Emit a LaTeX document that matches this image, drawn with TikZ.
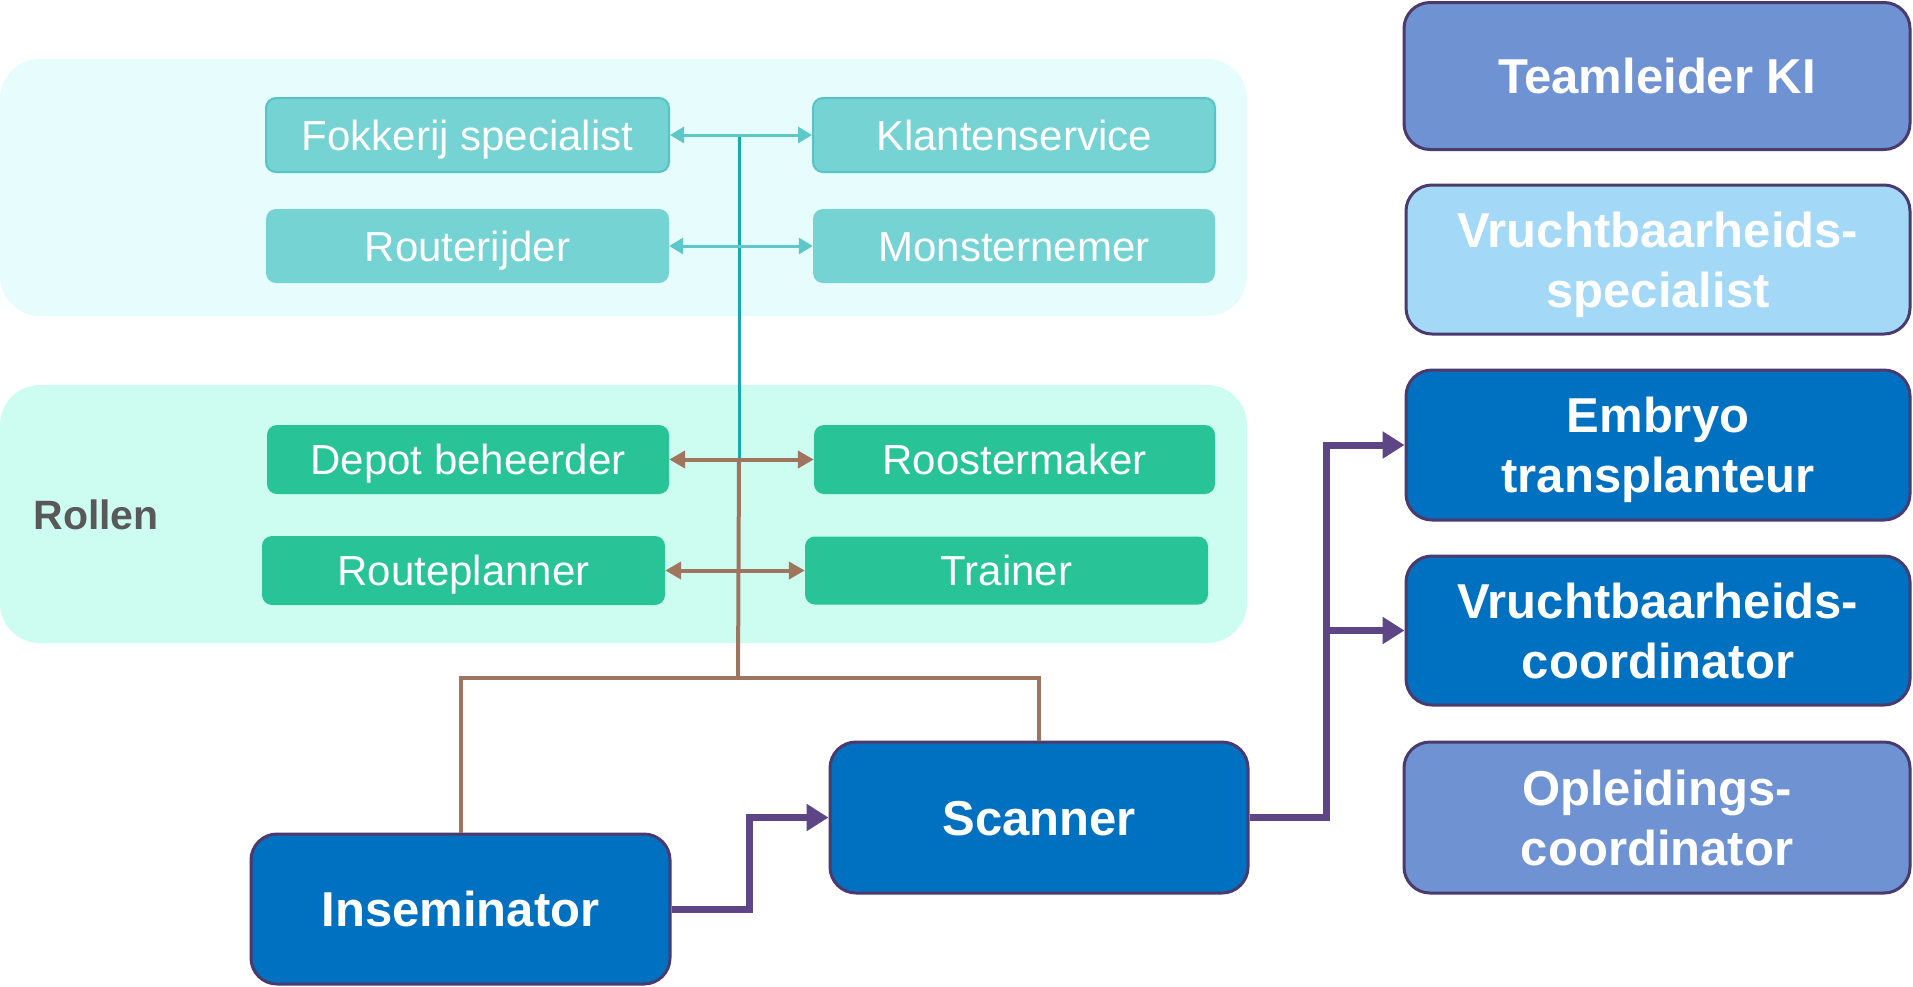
\documentclass[tikz,border=0pt]{standalone}
\usepackage{fontspec}
\setmainfont{Liberation Sans}
\usetikzlibrary{arrows.meta}
\newcommand{\nodesc}[1]{\raisebox{0pt}[\height][0pt]{#1}}
\definecolor{toppanel}{HTML}{E6FCFD}
\definecolor{botpanel}{HTML}{CCFDF0}
\definecolor{tealfill}{HTML}{76D3D4}
\definecolor{tealdraw}{HTML}{55C4C6}
\definecolor{tealline}{HTML}{5CC8CA}
\definecolor{tealdark}{HTML}{17AAAD}
\definecolor{greenfill}{HTML}{29C398}
\definecolor{bluefill}{HTML}{0070C0}
\definecolor{boxborder}{HTML}{4B3A6E}
\definecolor{lavender}{HTML}{6F92D2}
\definecolor{lightblue}{HTML}{A3D9F7}
\definecolor{purpleline}{HTML}{5E4585}
\definecolor{brownline}{HTML}{A07560}
\definecolor{labelgray}{HTML}{595959}
\tikzset{
  panel/.style={rounded corners=40pt, draw=none},
  smallbox/.style={rounded corners=10pt, inner sep=0pt, text=white,
    text height=30pt, text depth=0pt,
    font=\fontsize{42}{50}\selectfont},
  tealbox/.style={smallbox, fill=tealfill},
  tealbord/.style={tealbox, draw=tealdraw, line width=2pt},
  greenbox/.style={smallbox, fill=greenfill},
  bigbox/.style={rounded corners=26pt, inner sep=0pt, text=white, draw=boxborder,
    line width=3pt, align=center,
    font=\bfseries\fontsize{49}{60}\selectfont},
  oneline/.style={text height=35pt, text depth=0pt},
  bluebox/.style={bigbox, fill=bluefill},
  lavbox/.style={bigbox, fill=lavender},
  lbbox/.style={bigbox, fill=lightblue},
  tealarrow/.style={draw=tealline, line width=3pt, {Triangle[length=14pt,width=16pt]}-{Triangle[length=14pt,width=16pt]}},
  brownarrow/.style={draw=brownline, line width=4pt, {Triangle[length=16pt,width=17pt]}-{Triangle[length=16pt,width=17pt]}},
  brownlink/.style={draw=brownline, line width=4pt},
  purplelink/.style={draw=purpleline, line width=7pt, -{Triangle[length=22pt,width=26pt]}},
}
\begin{document}
\begin{tikzpicture}[x=1pt,y=-1pt]
\useasboundingbox (0,0) rectangle (1913,986);
% panels
\fill[panel, toppanel] (0,59) rectangle (1247,316);
\fill[panel, botpanel] (0,385) rectangle (1247,643);
\node[anchor=west, text=labelgray, font=\bfseries\fontsize{41}{49}\selectfont] (rollen) at (30,515) {Rollen};
% small boxes
\node[tealbord, minimum width=403pt, minimum height=74pt] (fok) at (467.5,135) {Fokkerij specialist};
\node[tealbord, minimum width=402pt, minimum height=74pt] (klant) at (1014,135) {Klantenservice};
\node[tealbox, minimum width=403pt, minimum height=74pt] (router) at (467.5,246) {Routerijder};
\node[tealbox, minimum width=402pt, minimum height=74pt] (monster) at (1014,246) {Monsternemer};
\node[greenbox, minimum width=402pt, minimum height=69pt] (depot) at (468,459.5) {Depot beheerder};
\node[greenbox, minimum width=401pt, minimum height=69pt] (rooster) at (1014.5,459.5) {Roostermaker};
\node[greenbox, minimum width=403pt, minimum height=69pt] (rplan) at (463.5,570.5) {Routeplanner};
\node[greenbox, minimum width=403pt, minimum height=68pt] (trainer) at (1006.5,570.5) {Trainer};
% big boxes
\node[bluebox, oneline, minimum width=419pt, minimum height=150pt] (insem) at (460.5,909) {Inseminator};
\node[bluebox, oneline, minimum width=418pt, minimum height=151pt] (scanner) at (1039,817.5) {Scanner};
\node[lavbox, oneline, minimum width=506pt, minimum height=147pt] (team) at (1657,76) {Teamleider KI};
\node[lbbox, minimum width=504pt, minimum height=149pt] (vspec) at (1658,259.5) {Vruchtbaarheids-\\\nodesc{specialist}};
\node[bluebox, minimum width=504pt, minimum height=150pt] (embryo) at (1658,445) {Embryo\\\nodesc{transplanteur}};
\node[bluebox, minimum width=504pt, minimum height=149pt] (vcoord) at (1658,630.5) {Vruchtbaarheids-\\coordinator};
\node[lavbox, minimum width=506pt, minimum height=151pt] (opl) at (1657,817.5) {Opleidings-\\coordinator};
% teal connectors
\coordinate (ttop) at (739,134);
\coordinate (tbot) at (739,460);
\draw[draw=tealdark, line width=3pt] (ttop) -- (tbot);
\draw[tealarrow] (fok.east) -- (klant.west);
\draw[tealarrow] (router.east) -- (monster.west);
% brown connectors
\coordinate (bh) at (738,678);
\draw[brownlink] (tbot) -- (bh);
\draw[brownlink] (insem.north) |- (bh) -| (scanner.north);
\draw[brownarrow] (depot.east) -- (rooster.west);
\draw[brownarrow] (rplan.east) -- (rplan.east -| trainer.west);
% purple connectors
\coordinate (pj) at (749,909);
\draw[purplelink] (insem.east) -- (pj) |- (scanner.west);
\coordinate (sj) at (1326,817.5);
\draw[purplelink] (scanner.east) -- (sj) |- (embryo.west);
\draw[purplelink] (sj |- vcoord.west) -- (vcoord.west);
\end{tikzpicture}
\end{document}
